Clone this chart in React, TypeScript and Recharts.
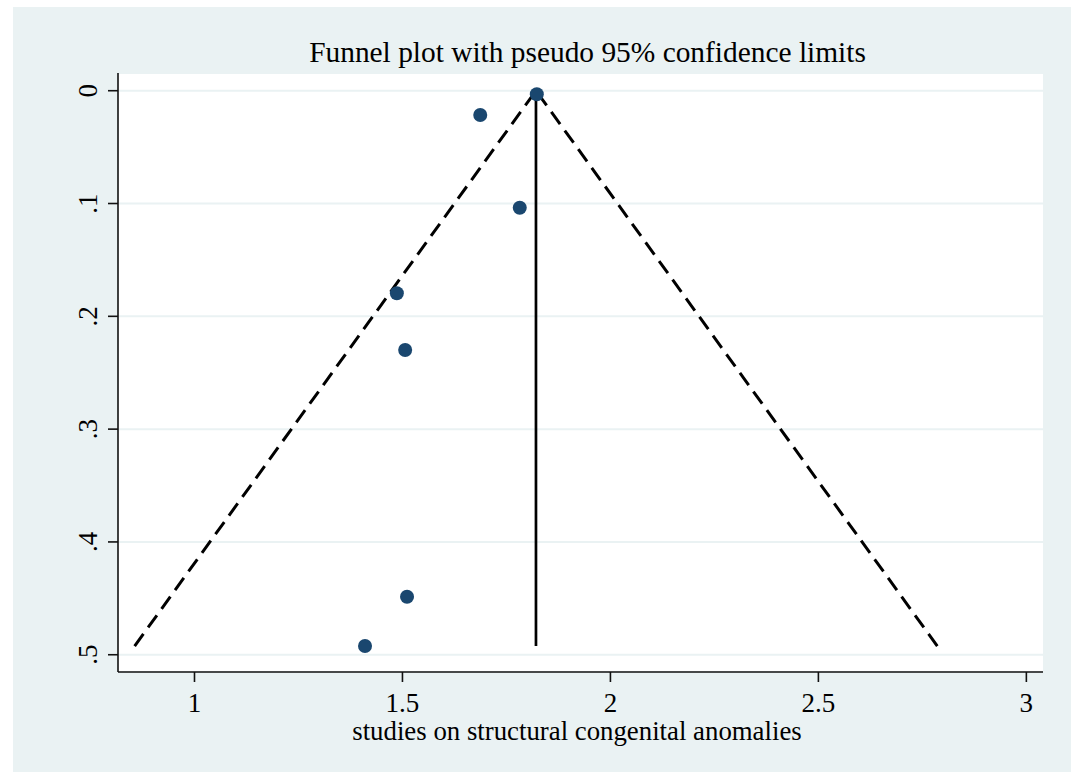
import React from "react";
import {
  ScatterChart,
  Scatter,
  XAxis,
  YAxis,
  CartesianGrid,
  ReferenceLine,
} from "recharts";

// ---- data ----
const studyEffect = [1.823, 1.687, 1.782, 1.4865, 1.5065, 1.511, 1.41];
const studySE = [0.0032, 0.0215, 0.1037, 0.1796, 0.2299, 0.4486, 0.4923];
const pooledEffect = 1.821;
const maxSE = 0.4923;
const z95 = 1.96;
const xTicks = [1, 1.5, 2, 2.5, 3];
const yTicks = [0, 0.1, 0.2, 0.3, 0.4, 0.5];
const titleText = "Funnel plot with pseudo 95% confidence limits";
const xAxisTitle = "studies on structural congenital anomalies";

const points = studyEffect.map((x, i) => ({ x, y: studySE[i] }));

const FONT = "'Liberation Serif', 'Times New Roman', serif";
const BG = "#EAF2F3";
const NAVY = "#1A476F";

const W = 1058;
const H = 765;

const fmtY = (v: number) => (v === 0 ? "0" : String(v).replace(/^0/, ""));

const YTick = (props: any) => {
  const { x, y, payload } = props;
  const bx = x - 1;
  return (
    <text
      x={bx}
      y={y}
      transform={`rotate(-90 ${bx} ${y})`}
      textAnchor="middle"
      fontFamily={FONT}
      fontSize={27}
      fill="#000"
    >
      {fmtY(payload.value)}
    </text>
  );
};

const XTick = (props: any) => {
  const { x, y, payload } = props;
  return (
    <text
      x={x}
      y={y}
      dy="0.71em"
      textAnchor="middle"
      fontFamily={FONT}
      fontSize={27}
      fill="#000"
    >
      {String(payload.value)}
    </text>
  );
};

const Dot = (props: any) => {
  const { cx, cy } = props;
  if (cx == null || cy == null) return null;
  return <circle cx={cx} cy={cy} r={7} fill={NAVY} />;
};

export default function App() {
  return (
    <div style={{ position: "absolute", left: 13, top: 7, width: W, height: H }}>
      <ScatterChart
        width={W}
        height={H}
        margin={{ top: 66, right: 28, left: 0, bottom: 0 }}
        style={{ background: BG }}
      >
        <CartesianGrid
          horizontal={true}
          vertical={false}
          fill="#ffffff"
          stroke={BG}
          strokeWidth={2}
        />
        <XAxis
          type="number"
          dataKey="x"
          domain={[0.8161, 3.04]}
          ticks={xTicks}
          allowDataOverflow
          height={100}
          tickSize={10}
          tickMargin={11}
          tick={<XTick />}
          axisLine={{ stroke: "#111", strokeWidth: 1.6 }}
          tickLine={{ stroke: "#111", strokeWidth: 1.6 }}
        />
        <YAxis
          type="number"
          dataKey="y"
          reversed
          domain={[-0.0157, 0.5153]}
          ticks={yTicks}
          allowDataOverflow
          width={105}
          tickSize={10}
          tickMargin={10}
          tick={<YTick />}
          axisLine={{ stroke: "#111", strokeWidth: 1.6 }}
          tickLine={{ stroke: "#111", strokeWidth: 1.6 }}
        />
        <Scatter data={points} shape={<Dot />} isAnimationActive={false} />
        <ReferenceLine
          segment={[
            { x: pooledEffect, y: 0 },
            { x: pooledEffect, y: maxSE },
          ]}
          stroke="#000"
          strokeWidth={2.7}
        />
        <ReferenceLine
          segment={[
            { x: pooledEffect - z95 * maxSE, y: maxSE },
            { x: pooledEffect, y: 0 },
          ]}
          stroke="#000"
          strokeWidth={3}
          strokeDasharray="15 8"
        />
        <ReferenceLine
          segment={[
            { x: pooledEffect + z95 * maxSE, y: maxSE },
            { x: pooledEffect, y: 0 },
          ]}
          stroke="#000"
          strokeWidth={3}
          strokeDasharray="15 8"
        />
      </ScatterChart>
      <svg
        width={W}
        height={H}
        style={{ position: "absolute", left: 0, top: 0, pointerEvents: "none" }}
      >
        <text
          x={574.5}
          y={55}
          textAnchor="middle"
          fontFamily={FONT}
          fontSize={29.4}
          fill="#000"
        >
          {titleText}
        </text>
        <text
          x={564}
          y={733}
          textAnchor="middle"
          fontFamily={FONT}
          fontSize={26.8}
          fill="#000"
        >
          {xAxisTitle}
        </text>
      </svg>
    </div>
  );
}
